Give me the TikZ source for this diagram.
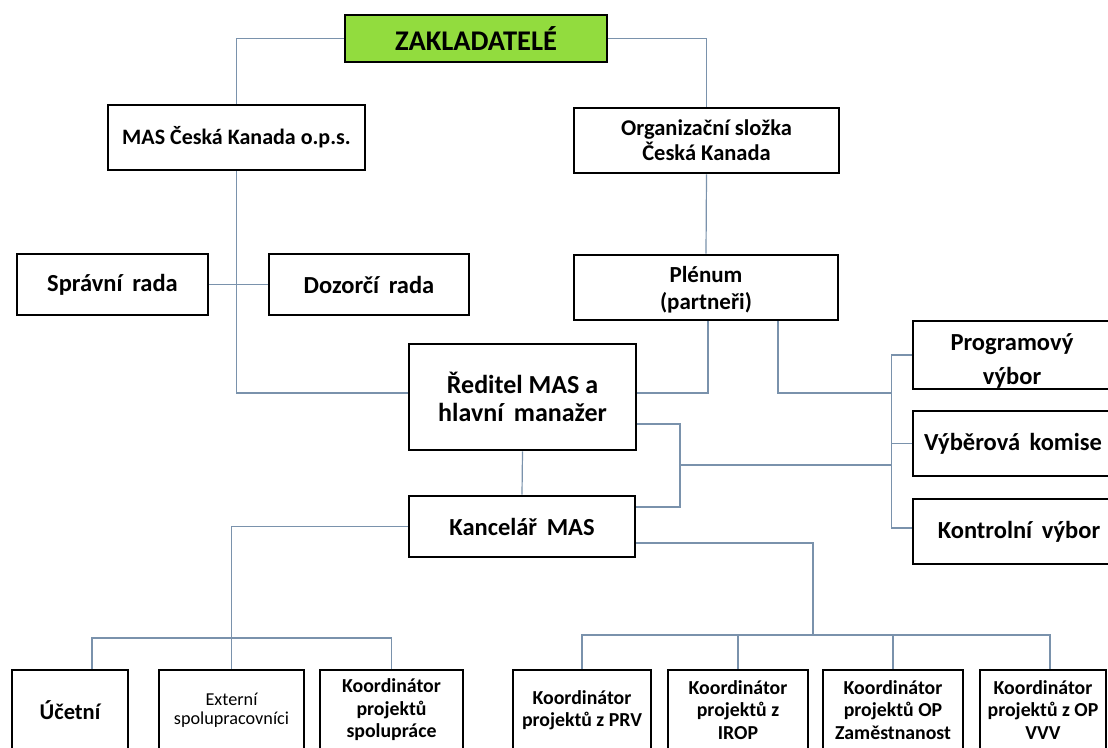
\documentclass[tikz,border=0pt]{standalone}
\usepackage{fontspec}
\setmainfont{Carlito}
\usetikzlibrary{calc}
\definecolor{lc}{RGB}{122,146,172}
\definecolor{zgreen}{RGB}{146,220,62}
\newcommand{\lowtxt}[2]{\raisebox{-#1}[\height][\depth]{\begin{tabular}{@{}c@{}}#2\end{tabular}}}
\tikzset{
  box/.style={draw=black, line width=2.9pt, fill=white, rectangle, align=center, inner sep=0pt},
  bx/.style={font=\bfseries\fontsize{22}{25}\selectfont},
  bxm/.style={font=\bfseries\fontsize{24.5}{28}\selectfont},
  bxs/.style={font=\bfseries\fontsize{19.8}{22.5}\selectfont},
  conn/.style={draw=lc, line width=1.2pt}
}
\begin{document}
\begin{tikzpicture}[x=1pt,y=-1pt]
\useasboundingbox (0,0) rectangle (1108,747);
\clip (0,0) rectangle (1108,747);
\fill[white] (0,0) rectangle (1108,747);

% top
\node[box, fill=zgreen, minimum width=262pt, minimum height=47pt, font=\bfseries\fontsize{28.5}{30}\selectfont] (zak) at (476,38.5) {ZAKLADATELÉ};
\node[box, bx, minimum width=257pt, minimum height=65pt] (mas) at (236.5,137.5) {MAS Česká Kanada o.p.s.};
\node[box, font=\bfseries\fontsize{22.5}{25}\selectfont, minimum width=265pt, minimum height=65pt] (org) at (706.5,140.5) {Organizační složka\\Česká Kanada};

% second level
\node[box, bxm, minimum width=191pt, minimum height=61pt] (spr) at (112.5,284.5) {Správní\, rada};
\node[box, bxm, minimum width=200pt, minimum height=61pt] (doz) at (369,284.5) {Dozorčí\, rada};
\node[box, font=\bfseries\fontsize{23}{27}\selectfont, minimum width=264pt, minimum height=65pt] (ple) at (706,287.5) {\lowtxt{3pt}{Plénum\\(partneři)}};

% director and office
\node[box, font=\bfseries\fontsize{26}{28}\selectfont, minimum width=227pt, minimum height=106pt] (red) at (522.5,397) {Ředitel MAS a\\hlavní\, manažer};
\node[box, bxm, minimum width=226pt, minimum height=61pt] (kan) at (522,526.5) {Kancelář\, MAS};

% right committees
\node[box, font=\bfseries\fontsize{24.5}{34}\selectfont, minimum width=212pt, minimum height=66pt] (prog) at (1019,355) {\lowtxt{6pt}{\hspace*{-14pt}Programový\\\hspace*{-14pt}výbor}};
\node[box, bxm, minimum width=212pt, minimum height=65pt] (vyb) at (1019,443.5) {\hspace*{-12pt}Výběrová\, komise};
\node[box, bxm, minimum width=212pt, minimum height=65pt] (kon) at (1019,531.5) {Kontrolní\, výbor};

% bottom row
\node[box, font=\bfseries\fontsize{22.5}{26}\selectfont, minimum width=116pt, minimum height=80pt] (uce) at (70,710) {Účetní};
\node[box, font=\fontsize{18.2}{18.5}\selectfont, minimum width=145pt, minimum height=80pt] (ext) at (231.5,710) {Externí\\spolupracovníci};
\node[box, bxs, minimum width=143pt, minimum height=80pt] (ksp) at (391.5,710) {Koordinátor\\projektů\\spolupráce};
\node[box, bxs, minimum width=138pt, minimum height=80pt] (prv) at (582,710) {Koordinátor\\projektů z PRV};
\node[box, bxs, minimum width=140pt, minimum height=80pt] (irop) at (738,710) {Koordinátor\\projektů z\\IROP};
\node[box, bxs, minimum width=140pt, minimum height=80pt] (opz) at (893,710) {Koordinátor\\projektů OP\\Zaměstnanost};
\node[box, bxs, minimum width=126pt, minimum height=80pt] (vvv) at (1043,710) {Koordinátor\\projektů z OP\\VVV};

% connectors
\draw[conn] (zak.west) -| (mas.north);
\draw[conn] (zak.east) -| (org.north);
\draw[conn] (mas.south) |- ($(red.west)+(0,-4)$);
\draw[conn] (spr.east) -- (doz.west);
\draw[conn] (org.south) -- (ple.north);
\draw[conn] ($(ple.south)+(2,0)$) |- ($(red.east)+(0,-4)$);
\coordinate (bt) at ($(prog.west)+(-20,0)$);
\coordinate (bb) at ($(kon.west)+(-20,-3.5)$);
\draw[conn] ($(ple.south)+(72,0)$) |- (bt |- 0,393);
\draw[conn] (prog.west) -- (bt) -- (bb) -- ($(kon.west)+(0,-3.5)$);
\draw[conn] (vyb.west) -- (bt |- vyb.west);
\draw[conn] ($(red.east)+(0,27)$) -| (680,465) |- ($(kan.east)+(0,-19.5)$);
\draw[conn] (680,465) -- (bt |- 0,465);
\draw[conn] (red.south) -- (kan.north);
% left branch
\coordinate (lb) at (ext.north |- 0,638);
\draw[conn] (kan.west) -| (ext.north);
\draw[conn] ($(uce.north)+(22,0)$) |- (lb) -| (ksp.north);
% right branch
\coordinate (rb) at (813,635);
\draw[conn] ($(kan.east)+(0,16.5)$) -| (rb);
\draw[conn] (prv.north) |- (rb) -| ($(vvv.north)+(7,0)$);
\draw[conn] (irop.north) -- (irop.north |- rb);
\draw[conn] (opz.north) -- (opz.north |- rb);
\end{tikzpicture}
\end{document}
